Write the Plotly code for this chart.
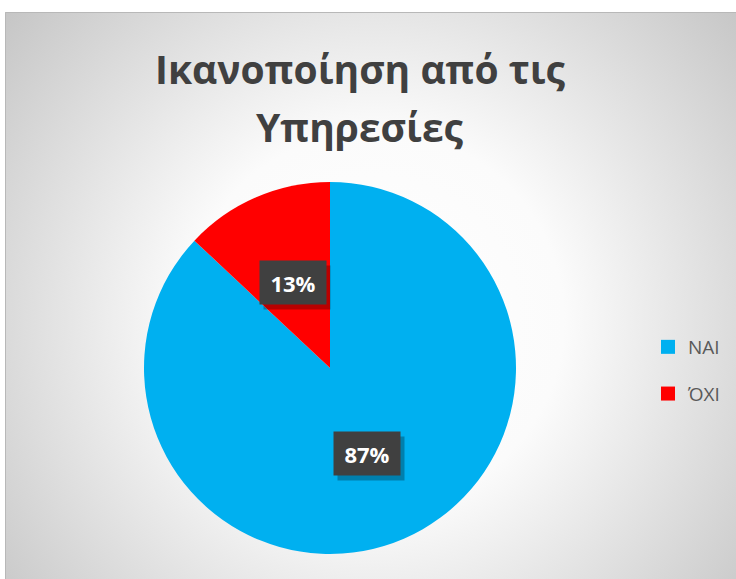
import base64
import math
import plotly.graph_objects as go

# --- data ---
categories = ["NAI", "ΌΧΙ"]
shares = [87, 13]
slice_colors = ["#00B0F0", "#FF0000"]
title_lines = ["Ικανοποίηση από τις", "Υπηρεσίες"]

W, H = 736, 579

# pie geometry (pixels)
PIE_CX, PIE_CY, PIE_R = 330, 368, 186

# soft radial background for the chart area
AREA_X0, AREA_Y0 = 5, 12
aw, ah = W - AREA_X0, H - AREA_Y0
svg = (
    f"<svg xmlns='http://www.w3.org/2000/svg' width='{aw}' height='{ah}'>"
    "<defs><radialGradient id='g' gradientUnits='userSpaceOnUse' "
    f"cx='{375 - AREA_X0}' cy='{320 - AREA_Y0}' r='540'>"
    "<stop offset='0' stop-color='#ffffff'/>"
    "<stop offset='0.35' stop-color='#fbfbfb'/>"
    "<stop offset='1' stop-color='#bbbbbb'/>"
    "</radialGradient></defs>"
    f"<rect width='{aw}' height='{ah}' fill='url(#g)'/>"
    f"<path d='M0.5 {ah} V0.5 H{aw}' fill='none' stroke='#b8b8b8' stroke-width='1'/>"
    "</svg>"
)
bg_uri = "data:image/svg+xml;base64," + base64.b64encode(svg.encode()).decode()

fig = go.Figure()

fig.add_trace(go.Pie(
    labels=categories,
    values=shares,
    marker=dict(colors=slice_colors, line=dict(width=0)),
    sort=False,
    direction="clockwise",
    rotation=0,
    textinfo="none",
    hoverinfo="label+percent",
    showlegend=False,
    domain=dict(
        x=[(PIE_CX - PIE_R) / W, (PIE_CX + PIE_R) / W],
        y=[(H - PIE_CY - PIE_R) / H, (H - PIE_CY + PIE_R) / H],
    ),
))

# legend entries with square swatches
for name, col in zip(categories, slice_colors):
    fig.add_trace(go.Scatter(
        x=[None], y=[None], mode="markers", name=name,
        marker=dict(symbol="square", size=14, color=col),
        legendgroup=name, showlegend=True, hoverinfo="skip",
    ))

annotations = []
# title
for i, line in enumerate(title_lines):
    annotations.append(dict(
        text=f"<b>{line}</b>", x=360 / W, y=1 - (69 + 58 * i) / H,
        xref="paper", yref="paper", xanchor="center", yanchor="middle",
        showarrow=False,
        font=dict(family="Open Sans, sans-serif", size=39, color="#404040"),
    ))

# percentage labels in dark boxes placed at each slice's mid-angle
total = sum(shares)
cum = 0.0
for val in shares:
    mid = (cum + val / 2) / total * 2 * math.pi
    cum += val
    px = PIE_CX + 0.5 * PIE_R * math.sin(mid)
    py = PIE_CY - 0.5 * PIE_R * math.cos(mid)
    pct = round(val / total * 100)
    for shadow in (True, False):
        annotations.append(dict(
            text=f"<b>{pct}%</b>" if not shadow else "",
            x=px / W, y=1 - py / H, xref="paper", yref="paper",
            xanchor="center", yanchor="middle", showarrow=False,
            width=66, height=43, borderpad=0,
            xshift=4 if shadow else 0, yshift=-5 if shadow else 0,
            bgcolor="rgba(0,0,0,0.28)" if shadow else "#404040",
            font=dict(family="Open Sans, sans-serif", size=22, color="#ffffff"),
        ))

fig.update_layout(
    width=W, height=H,
    margin=dict(l=0, r=0, t=0, b=0),
    paper_bgcolor="#ffffff",
    plot_bgcolor="rgba(0,0,0,0)",
    xaxis=dict(visible=False),
    yaxis=dict(visible=False),
    showlegend=True,
    legend=dict(
        x=648 / W, y=1 - 328 / H, xanchor="left", yanchor="top",
        bgcolor="rgba(0,0,0,0)", tracegroupgap=19, itemsizing="trace",
        font=dict(family="Open Sans, sans-serif", size=19, color="#595959"),
    ),
    images=[dict(
        source=bg_uri, xref="paper", yref="paper",
        x=AREA_X0 / W, y=1 - AREA_Y0 / H, sizex=aw / W, sizey=ah / H,
        xanchor="left", yanchor="top", sizing="stretch", layer="below",
    )],
    annotations=annotations,
)

fig.write_html("out.html")
